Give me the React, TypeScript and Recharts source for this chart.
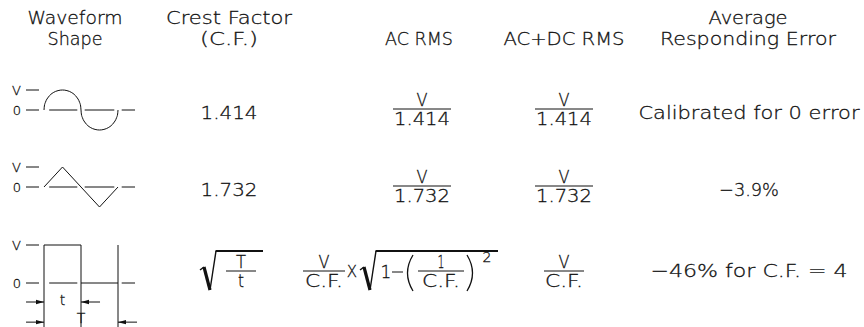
import React from 'react';
import { ComposedChart, Line, XAxis, YAxis, ReferenceLine, ReferenceDot } from 'recharts';

// ---------------- data ----------------
const headerLine1 = ['Waveform', 'Crest Factor', '', '', 'Average'];
const headerLine2 = ['Shape', '(C.F.)', 'AC RMS', 'AC+DC RMS', 'Responding Error'];
const crestFactors = ['1.414', '1.732'];
const rmsNumerator = 'V';
const rmsDenominators = ['1.414', '1.732'];
const errors = ['Calibrated for 0 error', '\u22123.9%', '\u221246% for C.F. = 4'];
const levelTicks = [0, 1];
const levelLabels: Record<number, string> = { 0: '0', 1: 'V' };

// one period of each waveform: t in periods, v in units of V
const sineWave = [
  { t: 0, v: 0 }, { t: 0.005, v: 0.2 }, { t: 0.02, v: 0.39 }, { t: 0.06, v: 0.65 },
  { t: 0.125, v: 0.87 }, { t: 0.19, v: 0.97 }, { t: 0.25, v: 1 }, { t: 0.31, v: 0.97 },
  { t: 0.375, v: 0.87 }, { t: 0.44, v: 0.65 }, { t: 0.48, v: 0.39 }, { t: 0.495, v: 0.2 },
  { t: 0.5, v: 0 },
  { t: 0.505, v: -0.2 }, { t: 0.52, v: -0.39 }, { t: 0.56, v: -0.65 }, { t: 0.625, v: -0.87 },
  { t: 0.69, v: -0.97 }, { t: 0.75, v: -1 }, { t: 0.81, v: -0.97 }, { t: 0.875, v: -0.87 },
  { t: 0.94, v: -0.65 }, { t: 0.98, v: -0.39 }, { t: 0.995, v: -0.2 }, { t: 1, v: 0 },
];
const triangleWave = [
  { t: 0, v: 0 }, { t: 0.25, v: 1 }, { t: 0.75, v: -1 }, { t: 1, v: 0 },
];
const squareWave = [
  { t: 0, v: 0 }, { t: 0, v: 1 }, { t: 0.5, v: 1 }, { t: 0.5, v: 0 }, { t: 1, v: 0 }, { t: 1, v: 1 },
];
// zero-line pieces (gaps at crossings)
const sineZeroPieces = [[0.07, 0.45], [0.55, 0.95], [1.05, 1.23]];
const triangleZeroPieces = [[0.07, 0.45], [0.55, 0.95], [1.05, 1.23]];
const squareZeroPieces = [[0.07, 0.45], [1.05, 1.23]];
// square wave extension lines and dimension arrows
const squareExtensions = [0, 0.5, 1];
const squareArrows = [
  { from: -0.243, to: 0, v: -0.5 },
  { from: 0.757, to: 0.5, v: -0.5 },
  { from: -0.243, to: 0, v: -1.03 },
  { from: 1.257, to: 1, v: -1.03 },
];
const squareDimLabels = [
  { text: 't', t: 0.25, v: -0.45 },
  { text: 'T', t: 0.5, v: -0.92 },
];

// ---------------- style / layout ----------------
const INK = '#111';
const FONT = "'DejaVu Sans', 'Roboto', sans-serif";
const FW = 200;
const Y_AXIS_W = 39;
const CHART_W = 150;
const ZERO_X = 44;
const PX_PER_PERIOD = 74;
const xDomain: [number, number] = [-(ZERO_X - Y_AXIS_W) / PX_PER_PERIOD, (CHART_W - ZERO_X) / PX_PER_PERIOD];

const arrowShape = (p: any) => {
  const { x1, y1, x2, y2 } = p;
  const d = x2 > x1 ? 1 : -1;
  return (
    <g>
      <line x1={x1} y1={y1} x2={x2} y2={y2} stroke={INK} strokeWidth={1} />
      <polygon points={`${x2},${y2} ${x2 - d * 8},${y2 - 2.2} ${x2 - d * 8},${y2 + 2.2}`} fill={INK} />
    </g>
  );
};

type WaveProps = {
  data: { t: number; v: number }[];
  top: number;
  height: number;
  yDomain: [number, number];
  curve: 'monotone' | 'linear';
  zeroPieces: number[][];
  extensions?: number[];
  arrows?: { from: number; to: number; v: number }[];
  dimLabels?: { text: string; t: number; v: number }[];
};

function Wave({ data, top, height, yDomain, curve, zeroPieces, extensions = [], arrows = [], dimLabels = [] }: WaveProps) {
  return (
    <div style={{ position: 'absolute', left: 0, top, width: CHART_W, height }}>
      <ComposedChart width={CHART_W} height={height} data={data} margin={{ top: 0, right: 0, bottom: 0, left: 0 }}>
        <XAxis dataKey="t" type="number" domain={xDomain} hide />
        <YAxis
          type="number"
          domain={yDomain}
          ticks={levelTicks}
          interval={0}
          tickFormatter={(v: number) => levelLabels[v] ?? ''}
          width={Y_AXIS_W}
          axisLine={false}
          tickSize={13}
          tickMargin={5}
          tickLine={{ stroke: INK, strokeWidth: 1 }}
          tick={{ fill: INK, stroke: INK, strokeWidth: 0.3, fontSize: 13, fontFamily: FONT, fontWeight: FW }}
        />
        {zeroPieces.map(([a, b], i) => (
          <ReferenceLine key={'z' + i} segment={[{ x: a, y: 0 }, { x: b, y: 0 }]} stroke={INK} strokeWidth={1} ifOverflow="visible" />
        ))}
        {extensions.map((t, i) => (
          <ReferenceLine key={'e' + i} segment={[{ x: t, y: 0 }, { x: t, y: yDomain[0] }]} stroke={INK} strokeWidth={1} ifOverflow="visible" />
        ))}
        {arrows.map((a, i) => (
          <ReferenceLine key={'a' + i} segment={[{ x: a.from, y: a.v }, { x: a.to, y: a.v }]} ifOverflow="visible" shape={arrowShape} />
        ))}
        {dimLabels.map((l, i) => (
          <ReferenceDot
            key={'l' + i}
            x={l.t}
            y={l.v}
            r={1}
            ifOverflow="visible"
            shape={(p: any) => (
              <text x={p.cx} y={p.cy} textAnchor="middle" dominantBaseline="central" fontSize={14} fontFamily={FONT} fontWeight={FW} fill={INK} stroke={INK} strokeWidth={0.3}>
                {l.text}
              </text>
            )}
          />
        ))}
        <Line dataKey="v" type={curve} stroke={INK} strokeWidth={1} dot={false} isAnimationActive={false} />
      </ComposedChart>
    </div>
  );
}

const Txt = ({ x, y, w, size = 18, children }: { x: number; y: number; w?: number; size?: number; children: React.ReactNode }) => (
  <text
    x={x}
    y={y}
    fontSize={size}
    textAnchor="middle"
    fill={INK}
    stroke={INK}
    strokeWidth={0.3}
    fontFamily={FONT}
    fontWeight={FW}
    {...(w ? { textLength: w, lengthAdjust: 'spacingAndGlyphs' } : {})}
  >
    {children}
  </text>
);

const Frac = ({ cx, bar, num, den, numW, denW, barW, size = 17 }: any) => (
  <g>
    <Txt x={cx} y={bar - 3} w={numW} size={size}>{num}</Txt>
    <line x1={cx - barW / 2} x2={cx + barW / 2} y1={bar} y2={bar} stroke={INK} strokeWidth={1} />
    <Txt x={cx} y={bar + 16} w={denW} size={size}>{den}</Txt>
  </g>
);

const Radical = ({ x, top, bottom, end }: { x: number; top: number; bottom: number; end: number }) => (
  <g fill="none" stroke={INK} strokeLinejoin="miter">
    <path d={`M${x},${bottom - 20} L${x + 4},${bottom - 23}`} strokeWidth={1.5} />
    <path d={`M${x + 4},${bottom - 23} L${x + 10},${bottom}`} strokeWidth={3.2} />
    <path d={`M${x + 10},${bottom} L${x + 16},${top}`} strokeWidth={1.4} />
    <path d={`M${x + 15.5},${top} L${end},${top}`} strokeWidth={2} />
  </g>
);

const colX = [75, 229, 419, 564, 748];
const headerW1 = [95, 126, 0, 0, 79];
const headerW2 = [55, 58, 68, 121, 176];
const rowMid = [113, 190, 271];
const errorW = [221, 60, 197];

export default function App() {
  return (
    <div style={{ position: 'absolute', left: 0, top: 0, width: 864, height: 327, background: '#fff', overflow: 'hidden' }}>
      <Wave data={sineWave} top={80} height={60} yDomain={[-1.5, 1.5]} curve="monotone" zeroPieces={sineZeroPieces} />
      <Wave data={triangleWave} top={157} height={60} yDomain={[-1.5, 1.5]} curve="linear" zeroPieces={triangleZeroPieces} />
      <Wave
        data={squareWave}
        top={235}
        height={92}
        yDomain={[-(327 - 283) / 38, (283 - 235) / 38]}
        curve="linear"
        zeroPieces={squareZeroPieces}
        extensions={squareExtensions}
        arrows={squareArrows}
        dimLabels={squareDimLabels}
      />
      <svg width={864} height={327} style={{ position: 'absolute', left: 0, top: 0, pointerEvents: 'none' }}>
        {headerLine1.map((h, i) => h ? <Txt key={'h1' + i} x={colX[i]} y={24} w={headerW1[i]}>{h}</Txt> : null)}
        {headerLine2.map((h, i) => <Txt key={'h2' + i} x={colX[i]} y={45} w={headerW2[i]}>{h}</Txt>)}

        {crestFactors.map((c, i) => (
          <Txt key={'cf' + i} x={colX[1]} y={rowMid[i] + 6} w={57}>{c}</Txt>
        ))}
        {rmsDenominators.map((d, i) => (
          <g key={'rms' + i}>
            <Frac cx={422} bar={rowMid[i] - 4} num={rmsNumerator} den={d} numW={11} denW={56} barW={58} />
            <Frac cx={564} bar={rowMid[i] - 4} num={rmsNumerator} den={d} numW={11} denW={56} barW={58} />
          </g>
        ))}
        {errors.map((e, i) => (
          <Txt key={'err' + i} x={colX[4] + 1} y={rowMid[i] + 6} w={errorW[i]}>{e}</Txt>
        ))}

        {/* row 3: square wave formulas */}
        <Radical x={200} top={251} bottom={290} end={263} />
        <Frac cx={241} bar={271} num="T" den="t" numW={10} denW={6} barW={30} />

        <Frac cx={324} bar={271} num="V" den="C.F." numW={11} denW={38} barW={42} />
        <Txt x={352} y={277} size={15}>X</Txt>
        <Radical x={360} top={251} bottom={290} end={498} />
        <Txt x={386} y={278} size={17}>1</Txt>
        <line x1={392} x2={403} y1={272} y2={272} stroke={INK} strokeWidth={1} />
        <path d="M413,255 Q402,273 413,291" fill="none" stroke={INK} strokeWidth={1.3} />
        <Frac cx={441} bar={271} num="1" den="C.F." numW={7} denW={38} barW={46} />
        <path d="M467,255 Q478,273 467,291" fill="none" stroke={INK} strokeWidth={1.3} />
        <Txt x={487} y={262} size={14}>2</Txt>

        <Frac cx={564} bar={271} num="V" den="C.F." numW={11} denW={38} barW={40} />
      </svg>
    </div>
  );
}
